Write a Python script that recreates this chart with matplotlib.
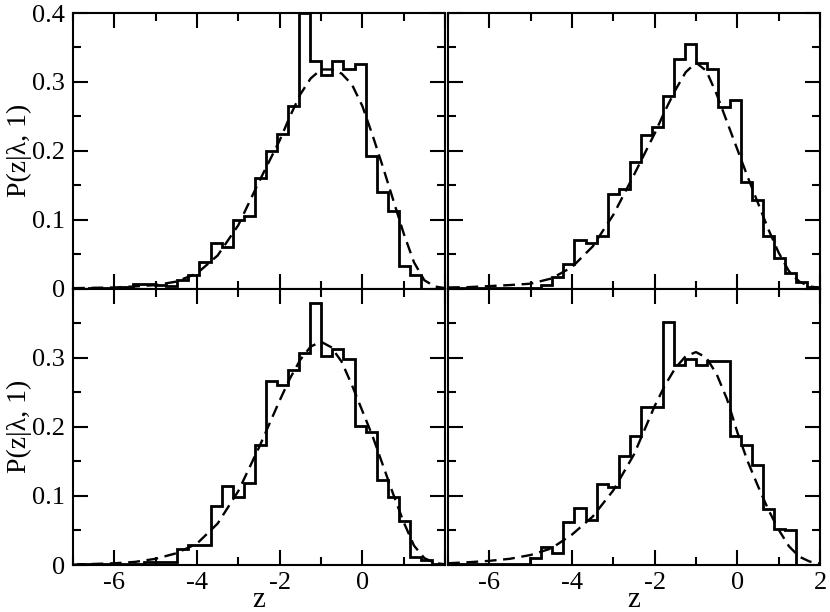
import matplotlib
matplotlib.use('Agg')
import matplotlib.pyplot as plt
from matplotlib.ticker import MultipleLocator, FixedLocator, FixedFormatter

plt.rcParams['font.family'] = ['Liberation Serif', 'DejaVu Serif']
plt.rcParams['axes.unicode_minus'] = False

# bin edges of the histograms (same for all panels)
edges = [-7.156, -6.888, -6.62, -6.352, -6.084, -5.816, -5.548, -5.28, -5.012,
         -4.744, -4.476, -4.208, -3.94, -3.672, -3.404, -3.136, -2.868, -2.6,
         -2.332, -2.064, -1.796, -1.528, -1.26, -0.992, -0.724, -0.456, -0.188,
         0.08, 0.348, 0.616, 0.884, 1.152, 1.42, 1.688, 1.956]

hist_tl = [0, 0, 0.001, 0.001, 0.001, 0.002, 0.007, 0.007, 0.005, 0.004,
           0.013, 0.020, 0.039, 0.066, 0.060, 0.099, 0.105, 0.160, 0.199, 0.225,
           0.265, 0.400, 0.331, 0.310, 0.331, 0.318, 0.326, 0.192, 0.140, 0.112,
           0.033, 0.019, 0.0, 0.0]
hist_tr = [0.001, 0.001, 0.001, 0.001, 0.001, 0.001, 0.001, 0.001, 0.001, 0.005,
           0.016, 0.035, 0.070, 0.066, 0.076, 0.137, 0.145, 0.184, 0.223, 0.234,
           0.279, 0.333, 0.355, 0.328, 0.318, 0.263, 0.274, 0.155, 0.129, 0.076,
           0.045, 0.022, 0.010, 0.002]
hist_bl = [0, 0.001, 0.001, 0.001, 0.001, 0.001, 0.002, 0.005, 0.005, 0.005,
           0.023, 0.029, 0.029, 0.085, 0.115, 0.098, 0.118, 0.173, 0.266, 0.261,
           0.282, 0.307, 0.379, 0.302, 0.313, 0.298, 0.201, 0.193, 0.123, 0.098,
           0.063, 0.011, 0.007, 0.002]
hist_br = [0.001, 0.001, 0.001, 0.001, 0.001, 0.001, 0.001, 0.001, 0.010, 0.026,
           0.018, 0.062, 0.082, 0.065, 0.117, 0.113, 0.157, 0.186, 0.229, 0.229,
           0.351, 0.289, 0.298, 0.289, 0.295, 0.295, 0.187, 0.174, 0.145, 0.081,
           0.052, 0.050, 0.0, 0.0]

# dashed fit curves
zfit = [-7, -6.5, -6, -5.5, -5, -4.5, -4, -3.5, -3, -2.5, -2, -1.75, -1.5, -1.25,
        -1, -0.75, -0.5, -0.25, 0, 0.25, 0.5, 0.75, 1, 1.25, 1.5, 1.75, 2]
fit_tl = [0.0005, 0.001, 0.0015, 0.003, 0.005, 0.010, 0.022, 0.048, 0.092, 0.155,
          0.215, 0.250, 0.282, 0.305, 0.318, 0.318, 0.312, 0.296, 0.265, 0.222,
          0.176, 0.128, 0.080, 0.038, 0.012, 0.003, 0.0005]
fit_tr = [0.0015, 0.002, 0.0035, 0.005, 0.007, 0.0145, 0.031, 0.061, 0.107, 0.165,
          0.225, 0.258, 0.288, 0.314, 0.328, 0.316, 0.282, 0.242, 0.202, 0.162,
          0.124, 0.086, 0.052, 0.025, 0.010, 0.003, 0.001]
fit_bl = [0.0005, 0.0015, 0.0025, 0.0045, 0.009, 0.017, 0.031, 0.060, 0.107, 0.170,
          0.238, 0.270, 0.297, 0.316, 0.323, 0.315, 0.294, 0.260, 0.223, 0.186,
          0.144, 0.102, 0.062, 0.028, 0.010, 0.003, 0.001]
fit_br = [0.0025, 0.004, 0.006, 0.009, 0.0145, 0.024, 0.044, 0.070, 0.108, 0.160,
          0.230, 0.260, 0.285, 0.302, 0.308, 0.300, 0.276, 0.240, 0.192, 0.150,
          0.114, 0.080, 0.051, 0.027, 0.012, 0.005, 0.002]

fig = plt.figure(figsize=(8.3, 6.12), dpi=100)
W, H = 830.0, 612.0

def make_ax(x0, x1, y0, y1):
    # pixel box (y from top) -> figure fraction
    return fig.add_axes([x0 / W, 1 - y1 / H, (x1 - x0) / W, (y1 - y0) / H])

ax_tl = make_ax(73, 445, 13, 288.5)
ax_tr = make_ax(448, 820, 13, 288.5)
ax_bl = make_ax(73, 445, 288.5, 565)
ax_br = make_ax(448, 820, 288.5, 565)

panels = [(ax_tl, hist_tl, fit_tl), (ax_tr, hist_tr, fit_tr),
          (ax_bl, hist_bl, fit_bl), (ax_br, hist_br, fit_br)]

for ax, h, f in panels:
    ax.stairs(h, edges, color='black', linewidth=2.0, baseline=None)
    ax.plot(zfit, f, color='black', linewidth=1.7, linestyle=(0, (5, 2.8)))
    ax.set_xlim(-7, 2)
    ax.set_ylim(0, 0.4)
    ax.xaxis.set_major_locator(MultipleLocator(2))
    ax.xaxis.set_minor_locator(MultipleLocator(1))
    ax.yaxis.set_major_locator(MultipleLocator(0.1))
    ax.yaxis.set_minor_locator(MultipleLocator(0.05))
    ax.tick_params(which='both', direction='in', top=True, right=True,
                   width=1.5, labelsize=19)
    ax.tick_params(which='major', length=11, pad=5)
    ax.tick_params(which='minor', length=6)
    ax.tick_params(axis='y', pad=6)
    for s in ax.spines.values():
        s.set_linewidth(1.5)
    ax.tick_params(labelbottom=False, labelleft=False)

ax_tl.yaxis.set_major_locator(FixedLocator([0, 0.1, 0.2, 0.3, 0.4]))
ax_tl.yaxis.set_major_formatter(FixedFormatter(['0', '0.1', '0.2', '0.3', '0.4']))
ax_tl.tick_params(labelleft=True)
ax_bl.yaxis.set_major_locator(FixedLocator([0, 0.1, 0.2, 0.3, 0.4]))
ax_bl.yaxis.set_major_formatter(FixedFormatter(['0', '0.1', '0.2', '0.3', '']))
ax_bl.tick_params(labelleft=True, labelbottom=True)
ax_bl.xaxis.set_major_locator(FixedLocator([-6, -4, -2, 0, 2]))
ax_bl.xaxis.set_major_formatter(FixedFormatter(['-6', '-4', '-2', '0', '']))
ax_br.xaxis.set_major_locator(FixedLocator([-6, -4, -2, 0, 2]))
ax_br.xaxis.set_major_formatter(FixedFormatter(['-6', '-4', '-2', '0', '2']))
ax_br.tick_params(labelbottom=True)

for ax in (ax_tl, ax_bl):
    ax.set_ylabel('P(z|λ, 1)', fontsize=20, labelpad=0)
for ax in (ax_bl, ax_br):
    ax.set_xlabel('z', fontsize=21, labelpad=-5)

fig.savefig('out.png', dpi=100)
